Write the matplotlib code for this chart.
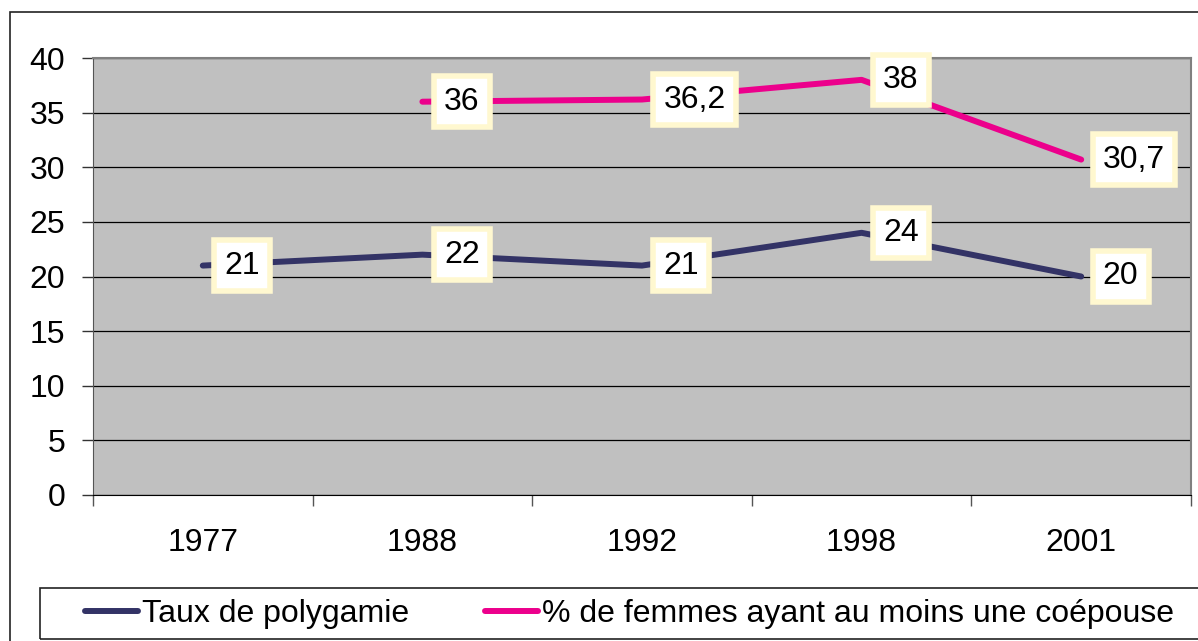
import numpy as np
import matplotlib
matplotlib.use("Agg")
import matplotlib.pyplot as plt
from matplotlib.patches import Rectangle

plt.rcParams['font.family'] = ['Liberation Sans', 'DejaVu Sans']

years = ["1977", "1988", "1992", "1998", "2001"]
polygamie = [21, 22, 21, 24, 20]
coepouse = [np.nan, 36, 36.2, 38, 30.7]
coepouse_labels = ["", "36", "36,2", "38", "30,7"]
polygamie_labels = ["21", "22", "21", "24", "20"]
series_names = ["Taux de polygamie", "% de femmes ayant au moins une coépouse"]
yticks = [0, 5, 10, 15, 20, 25, 30, 35, 40]

W, H = 1198, 641
FS = 23
fig = plt.figure(figsize=(W / 100, H / 100), dpi=100)

# outer chart frame (runs off the right and bottom edge)
fig.patches.append(Rectangle((10 / W, -0.1), 1.2, 1 - 12 / H + 0.1,
                             transform=fig.transFigure, fill=False,
                             edgecolor="#222222", linewidth=1.2))

ax = fig.add_axes([93 / W, (H - 495) / H, (1191 - 93) / W, (495 - 58) / H])
ax.set_facecolor("#C0C0C0")

x = np.arange(len(years))
navy = "#333366"
pink = "#EC008C"
l1, = ax.plot(x, polygamie, color=navy, lw=4.3, solid_capstyle="round", zorder=3)
l2, = ax.plot(x, coepouse, color=pink, lw=4.3, solid_capstyle="round", zorder=3)

def add_labels(vals, labels):
    for xi, v, lab in zip(x, vals, labels):
        if lab == "":
            continue
        ax.annotate(lab, (xi, v), xytext=(15.5, 0), textcoords="offset points",
                    ha="left", va="center", fontsize=FS, zorder=5,
                    annotation_clip=False,
                    bbox=dict(boxstyle="square,pad=0.32", facecolor="white",
                              edgecolor="#FFF8D0", linewidth=4))

add_labels(polygamie, polygamie_labels)
add_labels(coepouse, coepouse_labels)

ax.set_xlim(-0.5, len(years) - 0.5)
ax.set_ylim(0, 40)
ax.set_yticks(yticks)
ax.yaxis.grid(True, color="black", lw=0.9)
ax.set_axisbelow(True)
ax.tick_params(axis="y", labelsize=FS, length=8, width=1, pad=12, color="#333333")

ax.set_xticks(np.arange(-0.5, len(years)), labels=[""] * (len(years) + 1))
ax.set_xticks(x, labels=years, minor=True)
ax.tick_params(axis="x", which="major", length=8, width=1, color="#555555")
ax.tick_params(axis="x", which="minor", length=0, labelsize=FS, pad=24)

for s in ["top", "right"]:
    ax.spines[s].set_color("#808080")
    ax.spines[s].set_linewidth(1.5)
ax.spines["left"].set_color("#555555")
ax.spines["bottom"].set_color("black")

# legend frame
fig.patches.append(Rectangle((40 / W, (H - 639) / H), 1.2, (639 - 588) / H,
                             transform=fig.transFigure, fill=False,
                             edgecolor="#222222", linewidth=1.2))
fig.legend([l1, l2], series_names, loc="center left",
           bbox_to_anchor=(85 / W, (H - 614) / H), ncol=2, frameon=False,
           fontsize=FS, handlelength=1.65, handletextpad=0.12,
           columnspacing=2.4, borderpad=0, borderaxespad=0)

fig.savefig("out.png", dpi=100)
